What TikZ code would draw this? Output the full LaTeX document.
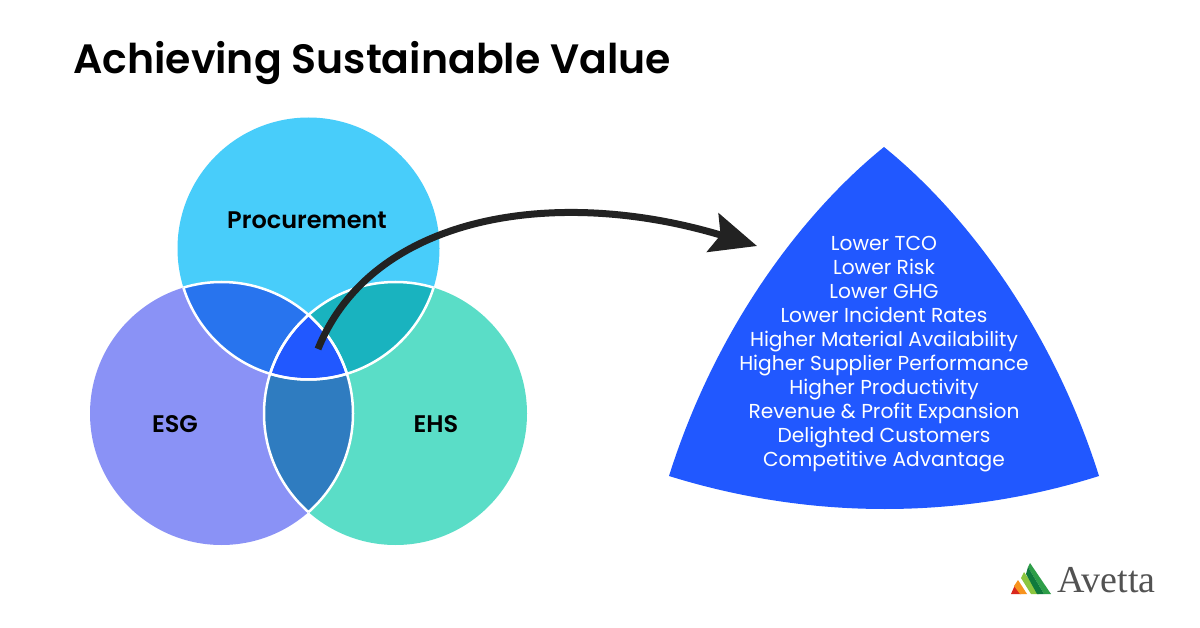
\documentclass[tikz,border=0pt]{standalone}
\usepackage{xcolor}
\usepackage{fontspec}
\setmainfont{Poppins}
\newfontfamily\semifont{Poppins SemiBold}
\newfontfamily\logofont{Liberation Serif}
\usepackage{tikz}
\usetikzlibrary{positioning, arrows.meta}
\definecolor{procBlue}{HTML}{48CDFA}
\definecolor{esgViolet}{HTML}{8A92F6}
\definecolor{ehsGreen}{HTML}{5ADDC7}
\definecolor{procEsg}{HTML}{2874EE}
\definecolor{procEhs}{HTML}{19B3BF}
\definecolor{esgEhs}{HTML}{2F7CC0}
\definecolor{coreBlue}{HTML}{2158FF}
\definecolor{arrowBlack}{HTML}{222222}
\definecolor{logoDark}{HTML}{0F7A3C}
\definecolor{logoMid}{HTML}{2E9E48}
\definecolor{logoLime}{HTML}{8CC63F}
\definecolor{logoOrange}{HTML}{F7931E}
\definecolor{logoRed}{HTML}{D9281E}
\newcommand{\procpath}{(308.5,248.5) circle (131)}
\newcommand{\esgpath}{(221.5,413.5) circle (131.5)}
\newcommand{\ehspath}{(395.5,413.5) circle (131.5)}
\begin{document}
\begin{tikzpicture}[
        x=1pt, y=-1pt,
        title/.style={font=\fontsize{41}{48}\selectfont\semifont, anchor=base west, inner sep=0pt},
        label/.style={font=\fontsize{24}{28}\selectfont\semifont, inner sep=0pt},
        benefit/.style={font=\fontsize{20.2}{24}\selectfont, text=white, align=center, inner sep=0pt},
        brand/.style={font=\fontsize{38}{40}\selectfont\logofont, text=black!68, anchor=base west, inner sep=0pt},
        seam/.style={draw=white, line width=2.5pt},
        bigarrow/.style={draw=arrowBlack, line width=7pt,
                         -{Stealth[length=46pt, width=40pt, inset=8pt]}},
      ]
      \useasboundingbox (0,0) rectangle (1200,628);
      \fill[white] (0,0) rectangle (1200,628);
      \fill[procBlue] \procpath;
      \fill[esgViolet] \esgpath;
      \fill[ehsGreen] \ehspath;
      \begin{scope}
        \clip \procpath;
        \fill[procEsg] \esgpath;
        \fill[procEhs] \ehspath;
      \end{scope}
      \begin{scope}
        \clip \esgpath;
        \fill[esgEhs] \ehspath;
        \clip \ehspath;
        \fill[coreBlue] \procpath;
      \end{scope}
      \begin{scope}
        \clip \procpath;
        \draw[seam] \esgpath;
        \draw[seam] \ehspath;
      \end{scope}
      \begin{scope}
        \clip \esgpath;
        \draw[seam] \procpath;
        \draw[seam] \ehspath;
      \end{scope}
      \begin{scope}
        \clip \ehspath;
        \draw[seam] \procpath;
        \draw[seam] \esgpath;
      \end{scope}

      \node[title] (heading) at (73,74) {Achieving Sustainable Value};
      \node[label] (proc) at (307,220) {Procurement};
      \node[label] (esg) at (175,424) {ESG};
      \node[label] (ehs) at (436,424) {EHS};

      \fill[coreBlue] (884,147) .. controls (800,215) and (715,330) .. (669,476)
        .. controls (810,520) and (960,520) .. (1099,476)
        .. controls (1053,330) and (968,215) .. (884,147) -- cycle;
      \node[benefit] (benefits) at (884,354) {Lower TCO\\Lower Risk\\Lower GHG\\Lower Incident Rates\\
        Higher Material Availability\\Higher Supplier Performance\\Higher Productivity\\
        Revenue \& Profit Expansion\\Delighted Customers\\Competitive Advantage};

      \coordinate (start) at (318,349);
      \coordinate (tip) at (757,246);
      \draw[bigarrow] (start) .. controls (372,215) and (555,185) .. (tip);

      \fill[logoRed] (1015,585) -- (1021,594) -- (1011,594) -- cycle;
      \fill[logoOrange] (1018,580) -- (1027,594) -- (1020,594) -- (1014,586) -- cycle;
      \fill[logoLime] (1024,572) -- (1039,594) -- (1031,594) -- (1021,578) -- cycle;
      \fill[logoMid] (1030,563) -- (1051,594) -- (1044,594) -- (1028,567) -- cycle;
      \fill[logoDark] (1028,567) -- (1044,594) -- (1037,594) -- (1026,574) -- cycle;
      \node[brand] (avetta) at (1057,592) {Avetta};
    \end{tikzpicture}
\end{document}
